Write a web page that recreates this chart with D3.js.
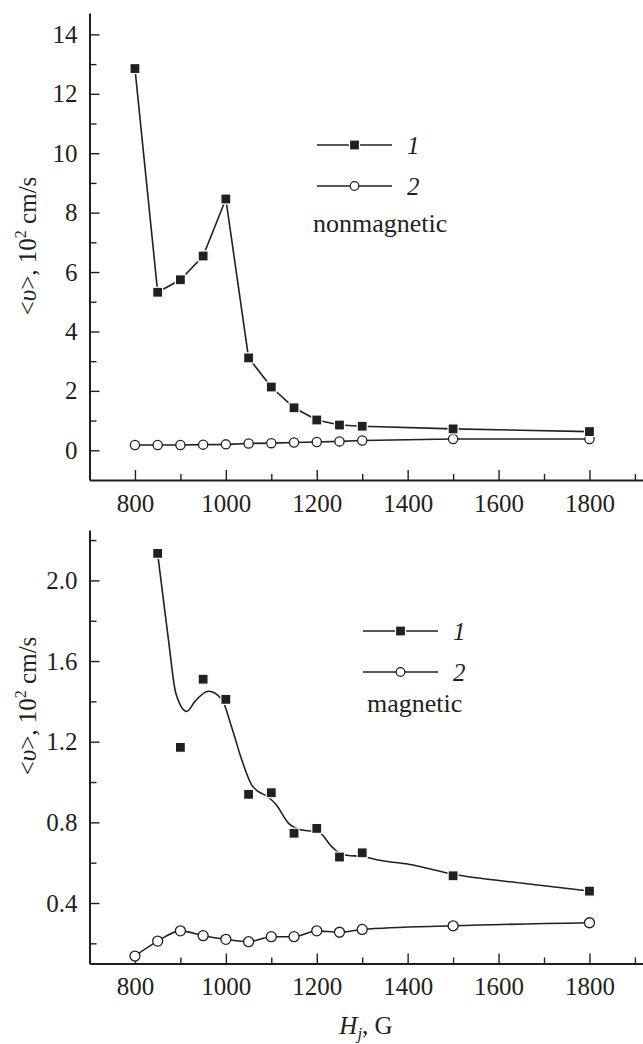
<!DOCTYPE html>
<html>
<head>
<meta charset="utf-8">
<script src="https://cdn.jsdelivr.net/npm/d3@7"></script>
<style>
  body { margin: 0; background: #fff; }
</style>
</head>
<body>
<svg id="plot" width="643" height="1044"></svg>
<script>
// field values, G
let fields = [800, 850, 900, 950, 1000, 1050, 1100, 1150, 1200, 1250, 1300, 1500, 1800];

// upper panel: nonmagnetic
let nonmag1 = [12.85, 5.32, 5.74, 6.54, 8.46, 3.11, 2.13, 1.43, 1.02, 0.85, 0.81, 0.72, 0.63];
let nonmag2 = [0.18, 0.18, 0.18, 0.19, 0.20, 0.23, 0.24, 0.26, 0.28, 0.30, 0.33, 0.38, 0.38];

// lower panel: magnetic (series 1 starts at 850)
let magFields1 = [850, 900, 950, 1000, 1050, 1100, 1150, 1200, 1250, 1300, 1500, 1800];
let mag1 = [2.134, 1.172, 1.51, 1.41, 0.939, 0.947, 0.746, 0.770, 0.628, 0.649, 0.535, 0.459];
let mag2 = [0.137, 0.211, 0.262, 0.238, 0.220, 0.208, 0.233, 0.233, 0.262, 0.255, 0.269, 0.287, 0.302];

// smoothed fit drawn through series 1 in the magnetic panel
let fitFields = [850, 874, 890, 914, 932, 962, 991, 1013, 1035, 1057, 1072, 1090, 1110, 1138, 1167, 1204, 1233, 1255, 1307, 1338, 1402, 1501, 1653, 1800];
let fitValues = [2.13, 1.70, 1.44, 1.35, 1.40, 1.45, 1.41, 1.27, 1.11, 0.985, 0.952, 0.93, 0.89, 0.795, 0.762, 0.752, 0.68, 0.641, 0.628, 0.612, 0.592, 0.543, 0.498, 0.459];

let xMajor = [800, 1000, 1200, 1400, 1600, 1800];
let xMinor = [900, 1100, 1300, 1500, 1700, 1900];
let yMajorTop = [0, 2, 4, 6, 8, 10, 12, 14];
let yMinorTop = [1, 3, 5, 7, 9, 11, 13];
let yMajorBottom = [0.4, 0.8, 1.2, 1.6, 2.0];
let yMinorBottom = [0.2, 0.6, 1.0, 1.4, 1.8, 2.2];

const ink = "#231f20";
const fontSize = 25;
const serif = '"Liberation Serif", "Times New Roman", serif';

let svg = d3.select("#plot");

let x = d3.scaleLinear()
    .domain([700, 1920])
    .range([89.5, 644]);

function drawPanel(opts) {
  let y = d3.scaleLinear()
      .domain(opts.yDomain)
      .range([opts.bottom, opts.top]);

  let g = svg.append("g");

  // x axis, ticks pointing inward
  g.append("g")
      .attr("transform", `translate(0, ${opts.bottom})`)
      .call(d3.axisBottom(x).tickValues(xMajor).tickSize(-10).tickSizeOuter(0).tickPadding(14)
              .tickFormat(d3.format("d")))
      .call(a => a.select(".domain").attr("stroke-width", 2).attr("stroke", ink))
      .call(a => a.selectAll(".tick line").attr("stroke", ink).attr("stroke-width", 1.4))
      .call(a => a.selectAll(".tick text")
                .attr("fill", ink)
                .style("font-family", serif)
                .style("font-size", fontSize + "px"));

  g.append("g")
      .attr("transform", `translate(0, ${opts.bottom})`)
      .call(d3.axisBottom(x).tickValues(xMinor).tickSize(-6).tickSizeOuter(0).tickFormat(""))
      .call(a => a.select(".domain").remove())
      .call(a => a.selectAll(".tick line").attr("stroke", ink).attr("stroke-width", 1.4));

  // y axis
  g.append("g")
      .attr("transform", `translate(${x(700)}, 0)`)
      .call(d3.axisLeft(y).tickValues(opts.yMajor).tickSize(-10).tickSizeOuter(0).tickPadding(12)
              .tickFormat(opts.yFormat))
      .call(a => a.select(".domain").attr("stroke-width", 2).attr("stroke", ink))
      .call(a => a.selectAll(".tick line").attr("stroke", ink).attr("stroke-width", 1.4))
      .call(a => a.selectAll(".tick text")
                .attr("fill", ink)
                .style("font-family", serif)
                .style("font-size", fontSize + "px"));

  g.append("g")
      .attr("transform", `translate(${x(700)}, 0)`)
      .call(d3.axisLeft(y).tickValues(opts.yMinor).tickSize(-7).tickSizeOuter(0).tickFormat(""))
      .call(a => a.select(".domain").remove())
      .call(a => a.selectAll(".tick line").attr("stroke", ink).attr("stroke-width", 1.4));

  // y title
  let title = g.append("text")
      .attr("transform", `translate(36, ${opts.titleY}) rotate(-90)`)
      .attr("text-anchor", "middle")
      .attr("fill", ink)
      .style("font-family", serif)
      .style("font-size", fontSize + "px");
  title.append("tspan").text("<");
  title.append("tspan").style("font-style", "italic").text("υ");
  title.append("tspan").text(">, 10");
  title.append("tspan").style("font-size", "16px").attr("dy", -10).text("2");
  title.append("tspan").attr("dy", 10).text(" cm/s");

  // lines
  let pts1 = opts.fields1.map((f, i) => [f, opts.values1[i]]);
  let pts2 = opts.fields2.map((f, i) => [f, opts.values2[i]]);

  let line1Pts = opts.fit ? opts.fit : pts1;
  g.append("path")
      .attr("d", d3.line().x(d => x(d[0])).y(d => y(d[1])).curve(opts.curve1)(line1Pts))
      .attr("fill", "none")
      .attr("stroke", ink)
      .attr("stroke-width", 1.6);

  g.append("path")
      .attr("d", d3.line().x(d => x(d[0])).y(d => y(d[1])).curve(opts.curve2)(pts2))
      .attr("fill", "none")
      .attr("stroke", ink)
      .attr("stroke-width", 1.6);

  // markers
  g.append("g").selectAll("circle")
    .data(pts2)
    .join("circle")
      .attr("cx", d => x(d[0]))
      .attr("cy", d => y(d[1]))
      .attr("r", opts.r)
      .attr("fill", "white")
      .attr("stroke", ink)
      .attr("stroke-width", 1.3);

  g.append("g").selectAll("rect")
    .data(pts1)
    .join("rect")
      .attr("x", d => x(d[0]) - 5)
      .attr("y", d => y(d[1]) - 5)
      .attr("width", 10)
      .attr("height", 10)
      .attr("fill", ink)
      .attr("stroke", "white")
      .attr("stroke-width", 1.2);

  // legend
  let lg = g.append("g");
  let lx = opts.legend.x, ly = opts.legend.y;
  [0, 1].forEach(i => {
    let yy = ly + i * opts.legend.gap;
    lg.append("line")
        .attr("x1", lx).attr("x2", lx + 75)
        .attr("y1", yy).attr("y2", yy)
        .attr("stroke", ink).attr("stroke-width", 1.4);
    if (i === 0) {
      lg.append("rect")
          .attr("x", lx + 37.5 - 5).attr("y", yy - 5)
          .attr("width", 10).attr("height", 10)
          .attr("fill", ink).attr("stroke", "white").attr("stroke-width", 1.2);
    } else {
      lg.append("circle")
          .attr("cx", lx + 37.5).attr("cy", yy)
          .attr("r", 4.3)
          .attr("fill", "white").attr("stroke", ink).attr("stroke-width", 1.2);
    }
    lg.append("text")
        .attr("x", lx + 90)
        .attr("y", yy + 9)
        .attr("fill", ink)
        .style("font-family", serif)
        .style("font-size", fontSize + "px")
        .style("font-style", "italic")
        .text(i + 1);
  });
  lg.append("text")
      .attr("x", opts.legend.textX)
      .attr("y", opts.legend.textY)
      .attr("fill", ink)
      .style("font-family", serif)
      .style("font-size", "26px")
      .text(opts.label);

  return y;
}

drawPanel({
  top: 13, bottom: 480,
  yDomain: [-1, 14.72],
  yMajor: yMajorTop, yMinor: yMinorTop,
  yFormat: d3.format("d"),
  titleY: 246,
  fields1: fields, values1: nonmag1,
  fields2: fields, values2: nonmag2,
  curve1: d3.curveLinear, curve2: d3.curveLinear,
  r: 4.6,
  legend: {x: 317, y: 145, gap: 41, textX: 313, textY: 232},
  label: "nonmagnetic"
});

drawPanel({
  top: 530, bottom: 963.5,
  yDomain: [0.1, 2.25],
  yMajor: yMajorBottom, yMinor: yMinorBottom,
  yFormat: d3.format(".1f"),
  titleY: 706,
  fields1: magFields1, values1: mag1,
  fields2: fields, values2: mag2,
  fit: fitFields.map((f, i) => [f, fitValues[i]]),
  curve1: d3.curveMonotoneX, curve2: d3.curveMonotoneX,
  r: 5,
  legend: {x: 363, y: 631, gap: 41, textX: 367, textY: 712},
  label: "magnetic"
});

// x title
let xt = svg.append("text")
    .attr("x", 366)
    .attr("y", 1034)
    .attr("text-anchor", "middle")
    .attr("fill", ink)
    .style("font-family", serif)
    .style("font-size", fontSize + "px");
xt.append("tspan").style("font-style", "italic").text("H");
xt.append("tspan").style("font-style", "italic").style("font-size", "17px").attr("dy", 5).text("j");
xt.append("tspan").attr("dy", -5).text(", G");
</script>
</body>
</html>
